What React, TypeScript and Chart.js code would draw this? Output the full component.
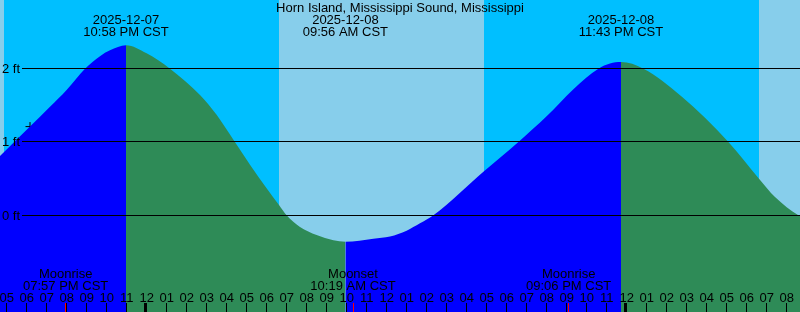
import React, { useEffect, useRef } from "react";
import { Chart, registerables } from "chart.js";

Chart.register(...registerables);

// Time axis: hours after 2025-12-07 04:40 PM CST
const TITLE = "Horn Island, Mississippi Sound, Mississippi";

const tideHours = [
  0, 1.5, 2.5, 3.33, 4.25, 5.0, 5.5, 6.3,
  7.33, 8.5, 10.0, 10.83, 11.67, 12.5, 13.33, 13.95, 14.33, 15.0, 15.83, 16.67, 17.27,
  18.67, 19.5, 20.33, 21.0, 21.67, 24.2, 25.92, 27.33, 28.67, 29.92, 30.5, 31.05,
  32.17, 34.08, 36.42, 37.95, 38.75, 39.92, 40,
];
const tideFeet = [
  0.81, 1.21, 1.48, 1.71, 2.0, 2.17, 2.25, 2.32,
  2.21, 2.0, 1.64, 1.37, 1.03, 0.69, 0.37, 0.14, 0.0, -0.16, -0.27, -0.34, -0.36,
  -0.32, -0.29, -0.21, -0.11, 0.0, 0.6, 1.0, 1.35, 1.72, 2.0, 2.07, 2.09,
  2.0, 1.62, 1.0, 0.5, 0.25, 0.0, -0.01,
];

const extremeHours = [6.3, 17.27, 31.05];
const extremeDates = ["2025-12-07", "2025-12-08", "2025-12-08"];
const extremeTimes = ["10:58 PM CST", "09:56 AM CST", "11:43 PM CST"];

const moonHours = [3.283, 17.65, 28.433];
const moonNames = ["Moonrise", "Moonset", "Moonrise"];
const moonTimes = ["07:57 PM CST", "10:19 AM CST", "09:06 PM CST"];

const nightStarts = [0.2, 24.2];
const nightEnds = [13.95, 37.95];

const firstTickHour = 1 / 3;
const hourLabels = [
  "05", "06", "07", "08", "09", "10", "11", "12",
  "01", "02", "03", "04", "05", "06", "07", "08", "09", "10", "11", "12",
  "01", "02", "03", "04", "05", "06", "07", "08", "09", "10", "11", "12",
  "01", "02", "03", "04", "05", "06", "07", "08",
];
const midnightHours = [7 + 1 / 3, 31 + 1 / 3];

const gridFeet = [0, 1, 2];
const gridLabels = ["0 ft", "1 ft", "2 ft"];

const nowHour = 1.5;
const nowFeet = 1.21;

const X_MIN = 0;
const X_MAX = 40;
const Y_MIN = -1.319;
const Y_MAX = 2.937;

const DAY = "#87CEEB";
const NIGHT = "#00BFFF";
const RISING = "#0000FF";
const FALLING = "#2E8B57";
const FONT = "13px 'Liberation Sans', Arial, sans-serif";

const tidePlugin = {
  id: "tideDecor",
  beforeDraw(chart: any) {
    const { ctx, width, height } = chart;
    const xs = chart.scales.x;
    ctx.save();
    ctx.fillStyle = DAY;
    ctx.fillRect(0, 0, width, height);
    ctx.fillStyle = NIGHT;
    nightStarts.forEach((s, i) => {
      const a = Math.round(xs.getPixelForValue(s));
      const b = Math.round(xs.getPixelForValue(nightEnds[i]));
      ctx.fillRect(a, 0, b - a, height);
    });
    ctx.restore();
  },
  afterDatasetsDraw(chart: any) {
    const { ctx, width } = chart;
    const ys = chart.scales.y;
    ctx.save();
    ctx.font = FONT;
    ctx.fillStyle = "#000";
    ctx.textAlign = "left";
    ctx.textBaseline = "alphabetic";
    gridFeet.forEach((f, i) => {
      const y = Math.floor(ys.getPixelForValue(f)) + 0.5;
      ctx.strokeStyle = "#000";
      ctx.lineWidth = 1;
      ctx.beginPath();
      ctx.moveTo(22, y);
      ctx.lineTo(width, y);
      ctx.stroke();
      ctx.fillText(gridLabels[i], 2, y + 4);
    });
    ctx.restore();
  },
  afterDraw(chart: any) {
    const { ctx, width } = chart;
    const xs = chart.scales.x;
    ctx.save();
    ctx.font = FONT;
    ctx.fillStyle = "#000";
    ctx.textBaseline = "alphabetic";
    ctx.textAlign = "center";
    ctx.fillText(TITLE, width / 2, 12);
    extremeHours.forEach((h, i) => {
      const x = xs.getPixelForValue(h);
      ctx.fillText(extremeDates[i], x, 24);
      ctx.fillText(extremeTimes[i], x, 36);
    });
    moonHours.forEach((h, i) => {
      const x = xs.getPixelForValue(h);
      ctx.fillText(moonNames[i], x, 278);
      ctx.fillText(moonTimes[i], x, 290);
    });
    hourLabels.forEach((lab, i) => {
      const x = xs.getPixelForValue(firstTickHour + i);
      ctx.fillStyle = "#000";
      ctx.fillText(lab, x, 302);
      ctx.fillRect(Math.floor(x), 303, 1, 9);
    });
    midnightHours.forEach((h) => {
      const x = Math.floor(xs.getPixelForValue(h));
      ctx.fillRect(x - 2, 303, 3, 9);
    });
    ctx.fillStyle = "#FF0000";
    moonHours.forEach((h) => {
      const x = Math.floor(xs.getPixelForValue(h));
      ctx.fillRect(x, 303, 1, 9);
    });
    ctx.restore();
  },
};

export default function App() {
  const ref = useRef<HTMLCanvasElement | null>(null);
  useEffect(() => {
    if (!ref.current) return;
    const chart = new Chart(ref.current, {
      type: "line",
      data: {
        datasets: [
          {
            data: tideHours.map((h, i) => ({ x: h, y: tideFeet[i] })),
            fill: "start",
            backgroundColor: RISING,
            borderColor: "rgba(0,0,0,0)",
            borderWidth: 0,
            pointRadius: 0,
            cubicInterpolationMode: "monotone",
            segment: {
              backgroundColor: (c: any) =>
                c.p1.parsed.y >= c.p0.parsed.y ? RISING : FALLING,
            },
          } as any,
          {
            type: "scatter",
            data: [{ x: nowHour, y: nowFeet }],
            pointStyle: "cross",
            pointRadius: 4.5,
            borderColor: "#000",
            backgroundColor: "#000",
            borderWidth: 1,
            showLine: false,
          } as any,
        ],
      },
      options: {
        responsive: false,
        animation: false,
        layout: { padding: 0, autoPadding: false },
        scales: {
          x: { type: "linear", min: X_MIN, max: X_MAX, display: false },
          y: { type: "linear", min: Y_MIN, max: Y_MAX, display: false },
        },
        plugins: {
          legend: { display: false },
          tooltip: { enabled: false },
        },
        events: [],
      },
      plugins: [tidePlugin],
    });
    return () => chart.destroy();
  }, []);
  return (
    <div style={{ position: "fixed", left: 0, top: 0, width: 800, height: 312 }}>
      <canvas ref={ref} width={800} height={312} style={{ display: "block" }} />
    </div>
  );
}
